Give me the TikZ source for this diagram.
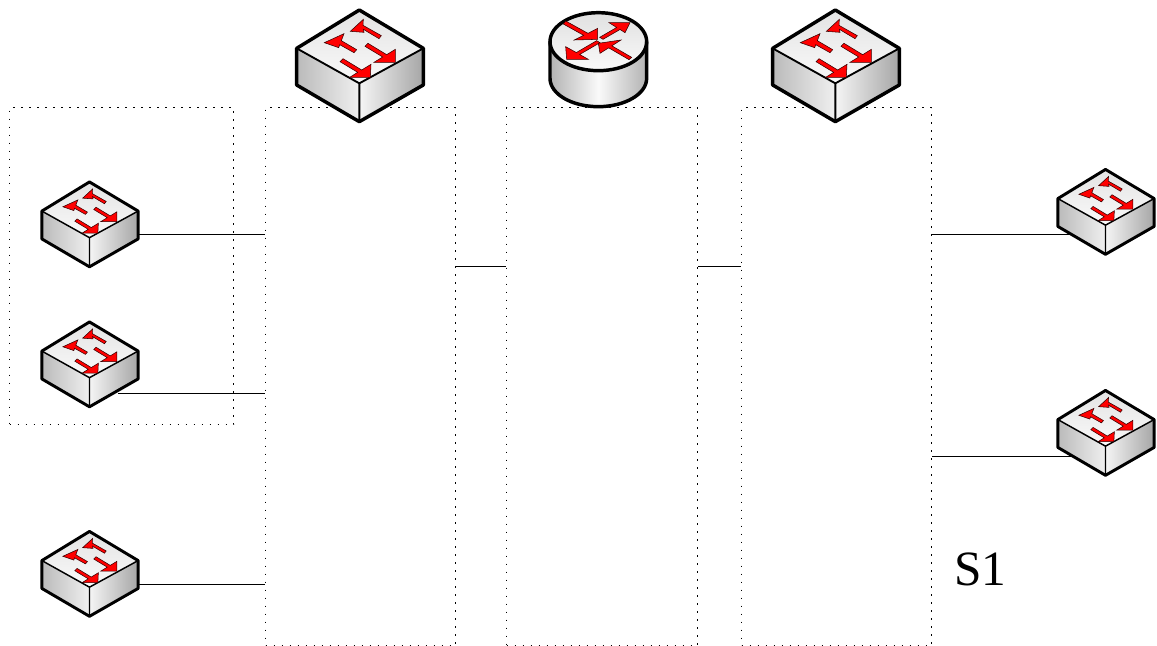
\documentclass[tikz,border=0pt]{standalone}
\usepackage{fontspec}
\setmainfont{Liberation Serif}
\begin{document}
\begin{tikzpicture}[x=0.75pt,y=-0.75pt,
  regionbox/.style={draw=black,line width=1pt,dash pattern=on 1pt off 5pt,inner sep=0pt,anchor=north west},
  port/.style={inner sep=0pt,minimum height=1pt},
  wire/.style={draw=black,line width=1.3pt},
  redmark/.style={fill=red,draw=black!80!red,line width=0.4pt,line join=miter},
  outline/.style={draw=black,line join=round,line cap=round}]
\useasboundingbox (0,0) rectangle (1157,646);
\newcommand{\switchicon}[5]{% x y scale outer-lw inner-lw
 \begin{scope}[shift={(#1-#3*80,#2-#3*66)},x=#3*0.25pt,y=-#3*0.25pt]
  \fill[left color=black!27,right color=black!6] (50,145)--(238,250)--(238,365)--(50,255)--cycle;
  \fill[left color=black!4,right color=black!35] (238,250)--(430,145)--(430,255)--(238,365)--cycle;
  \fill[bottom color=black!2,top color=black!11] (50,145)--(238,30)--(430,145)--(238,250)--cycle;
  \draw[outline,line width=#5] (50,145)--(238,250)--(430,145) (238,250)--(238,365);
  \draw[outline,line width=#4] (50,145)--(238,30)--(430,145)--(430,255)--(238,365)--(50,255)--cycle;
  \path[redmark] (211,94)--(250,58)--(249,76)--(304,107)--(297,116)--(250,88)--(252,97)--cycle;
  \path[redmark] (133,128)--(192,101)--(184,122)--(230,149)--(222,158)--(179,134)--(176,143)--cycle;
  \path[redmark] (264,130)--(320,164)--(346,148)--(346,187)--(282,187)--(308,171)--(255,139)--cycle;
  \path[redmark] (189,176)--(245,210)--(273,193)--(271,232)--(209,232)--(233,217)--(180,185)--cycle;
 \end{scope}}
% dotted regions
\node[regionbox,minimum width=168pt,minimum height=237.75pt] (zone) at (9,107) {};
\node[regionbox,minimum width=142.5pt,minimum height=403.5pt] (boxa) at (265,107) {};
\node[regionbox,minimum width=143.25pt,minimum height=403.5pt] (boxb) at (506,107) {};
\node[regionbox,minimum width=142.5pt,minimum height=403.5pt] (boxc) at (741,107) {};
% connector anchors on the switches
\node[port,minimum width=72pt] (s1) at (90,234.5) {};
\node[port,minimum width=42pt] (s2) at (90,393.5) {};
\node[port,minimum width=72pt] (s3) at (90,584.5) {};
\node[port,minimum width=70pt] (s4) at (1118,234.5) {};
\node[port,minimum width=70pt] (s5) at (1118,456.5) {};
\coordinate (ab) at (455,266.5);
% connectors
\draw[wire] (s1.east) -- (s1.east -| boxa.west);
\draw[wire] (s2.east) -- (s2.east -| boxa.west);
\draw[wire] (s3.east) -- (s3.east -| boxa.west);
\draw[wire] (ab) -- (ab -| boxb.west);
\draw[wire] (ab -| boxb.east) -- (ab -| boxc.west);
\draw[wire] (s4.west) -- (s4.west -| boxc.east);
\draw[wire] (s5.west) -- (s5.west -| boxc.east);
% switches
\switchicon{360}{66}{1}{2.6pt}{1.4pt}
\switchicon{836}{66}{1}{2.6pt}{1.4pt}
\switchicon{90}{224.5}{0.76}{2.2pt}{1.1pt}
\switchicon{90}{364.5}{0.76}{2.2pt}{1.1pt}
\switchicon{90}{574}{0.76}{2.2pt}{1.1pt}
\switchicon{1106}{212}{0.76}{2.2pt}{1.1pt}
\switchicon{1106}{433}{0.76}{2.2pt}{1.1pt}
% router
\begin{scope}[shift={(535,0)},x=0.25pt,y=-0.25pt]
  \fill[left color=black!30,right color=black!30,middle color=black!2]
    (45,125) -- (45,235) arc[start angle=180,end angle=0,x radius=145,y radius=85] -- (335,125) -- cycle;
  \fill[bottom color=black!2,top color=black!12] (190,125) ellipse[x radius=145,y radius=87];
  \draw[outline,line width=2.6pt] (190,125) ellipse[x radius=145,y radius=87];
  \draw[outline,line width=2.6pt] (45,125) -- (45,235) arc[start angle=180,end angle=0,x radius=145,y radius=85] -- (335,125);
  \path[redmark] (92,63)--(159,100)--(188,85)--(188,118)--(118,120)--(146,106)--(85,72)--cycle;
  \path[redmark] (285,68)--(270,98)--(255,88.5)--(204,118)--(194,112)--(245,82.4)--(222,68)--cycle;
  \path[redmark] (185,122)--(124,157.6)--(92,140)--(95,178)--(160,178)--(134,163.5)--(195,128)--cycle;
  \path[redmark] (190,130)--(258,120)--(230.5,137.5)--(290,172)--(282,179)--(221,143.5)--(195,160)--cycle;
\end{scope}
\node[anchor=base west,inner sep=0pt,font=\fontsize{37pt}{37pt}\selectfont] (s1label) at (954,585) {S1};
\end{tikzpicture}
\end{document}
